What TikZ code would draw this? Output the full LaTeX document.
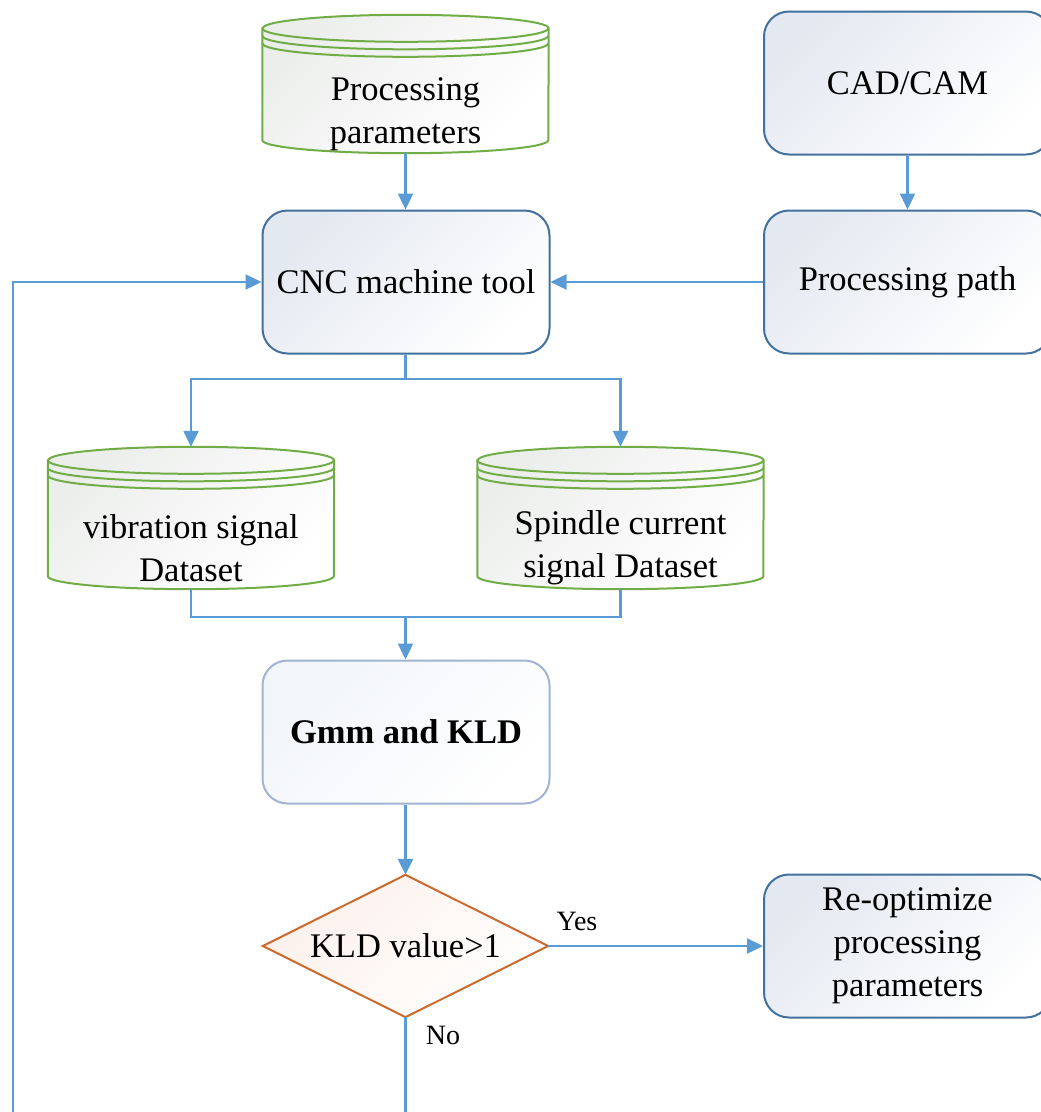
\documentclass[tikz,border=0pt]{standalone}
\usepackage{fontspec}
\setmainfont{Liberation Serif}
\usetikzlibrary{arrows.meta,calc}

\definecolor{boxline}{RGB}{65,113,156}
\definecolor{gmmline}{RGB}{160,180,210}
\definecolor{drumline}{RGB}{112,173,71}
\definecolor{flow}{RGB}{91,155,213}
\definecolor{decline}{RGB}{204,106,44}
\definecolor{boxshade}{RGB}{228,232,240}
\definecolor{gmmshade}{RGB}{242,245,250}
\definecolor{drumshade}{RGB}{236,238,236}
\definecolor{decshade}{RGB}{252,240,235}

% drum (stacked-disc store) outline drawn round a plain rectangular node
\newcommand\drawdrum[1]{%
  \path[drumbody]
    ($(#1.north west)+(0,-13.5)$) -- ($(#1.south west)+(0,13)$)
    arc[start angle=180,end angle=360,x radius=143,y radius=13]
    -- ($(#1.north east)+(0,-13.5)$)
    arc[start angle=0,end angle=180,x radius=143,y radius=13.5] -- cycle;
  \foreach \k in {0,7.5,15}{
    \draw[drumrim] ($(#1.north west)+(0,-13.5-\k)$)
      arc[start angle=180,end angle=360,x radius=143,y radius=13.5];}
}

\begin{document}
\begin{tikzpicture}[x=1pt,y=1pt,
  txt/.style={font=\fontsize{34.5}{43}\selectfont, align=center},
  procbox/.style={rectangle, rounded corners=25pt, minimum width=287pt,
    minimum height=143pt, draw=boxline, line width=2pt, top color=boxshade,
    bottom color=white, shading angle=45, txt, inner sep=0pt},
  lightbox/.style={procbox, draw=gmmline, top color=gmmshade,
    bottom color=white, shading angle=45},
  drumbox/.style={rectangle, minimum width=286pt, inner sep=0pt},
  drumbody/.style={draw=drumline, line width=2pt, top color=drumshade,
    bottom color=white, shading angle=45},
  drumrim/.style={draw=drumline, line width=2pt},
  decbox/.style={rectangle, minimum width=285pt, minimum height=142pt, inner sep=0pt},
  decshape/.style={draw=decline, line width=2pt, top color=decshade,
    bottom color=white, shading angle=45},
  flowline/.style={draw=flow, line width=2.4pt},
  flowarrow/.style={flowline, -{Triangle[length=16pt,width=15pt]}},
  lbl/.style={font=\fontsize{28}{34}\selectfont, inner sep=0pt}
]
\useasboundingbox (0,0) rectangle (1041,-1112);
\clip (0,0) rectangle (1041,-1112);

% stores
\node[drumbox, minimum height=138pt] (pp) at (405.5,-84) {};
\drawdrum{pp}
\node[txt] (pptext) at ($(pp.center)+(0,-30)$) {Processing\\parameters};

\node[drumbox, minimum height=142pt] (vib) at (191,-518) {};
\drawdrum{vib}
\node[txt] (vibtext) at ($(vib.center)+(0,-30)$) {vibration signal\\Dataset};

\node[drumbox, minimum height=142pt] (spi) at (620.5,-518) {};
\drawdrum{spi}
\node[txt] (spitext) at ($(spi.center)+(0,-30)$) {Spindle current\\signal Dataset};

% process boxes
\node[procbox] (cad)   at (907.5,-83)   {CAD/CAM};
\node[procbox] (path)  at (907.5,-282)  {Processing path};
\node[procbox] (cnc)   at (406,-282)    {CNC machine tool};
\node[lightbox, font=\fontsize{34.5}{43}\selectfont\bfseries] (gmm) at (406,-732) {Gmm and KLD};
\node[procbox] (reopt) at (907.5,-946)  {Re-optimize\\processing\\parameters};

% decision
\node[decbox] (dec) at (405.5,-946) {};
\path[decshape] (dec.north) -- (dec.east) -- (dec.south) -- (dec.west) -- cycle;
\node[txt] (dectext) at (dec.center) {KLD value>1};

% connectors
\draw[flowarrow] (pp.south) -- (pp.south |- cnc.north);
\draw[flowarrow] (cad.south) -- (path.north);
\draw[flowarrow] (path.west) -- (cnc.east);

\coordinate (fork) at (405.5,-379);
\draw[flowline] (cnc.south -| fork) -- (fork);
\draw[flowarrow] (fork) -| (vib.north);
\draw[flowarrow] (fork) -| (spi.north);

\coordinate (merge) at (405.5,-617);
\draw[flowline] (vib.south) |- (merge) -| (spi.south);
\draw[flowarrow] (merge) -- (merge |- gmm.north);

\draw[flowarrow] (gmm.south -| dec.north) -- (dec.north);
\draw[flowarrow] (dec.east) -- (reopt.west);
\node[lbl] (yes) at (577,-921) {Yes};
\node[lbl] (no)  at (443,-1035) {No};

% feedback loop back into the machine tool
\coordinate (back) at (13,-1130);
\draw[flowarrow] (dec.south) |- (back) |- (cnc.west);
\end{tikzpicture}
\end{document}
